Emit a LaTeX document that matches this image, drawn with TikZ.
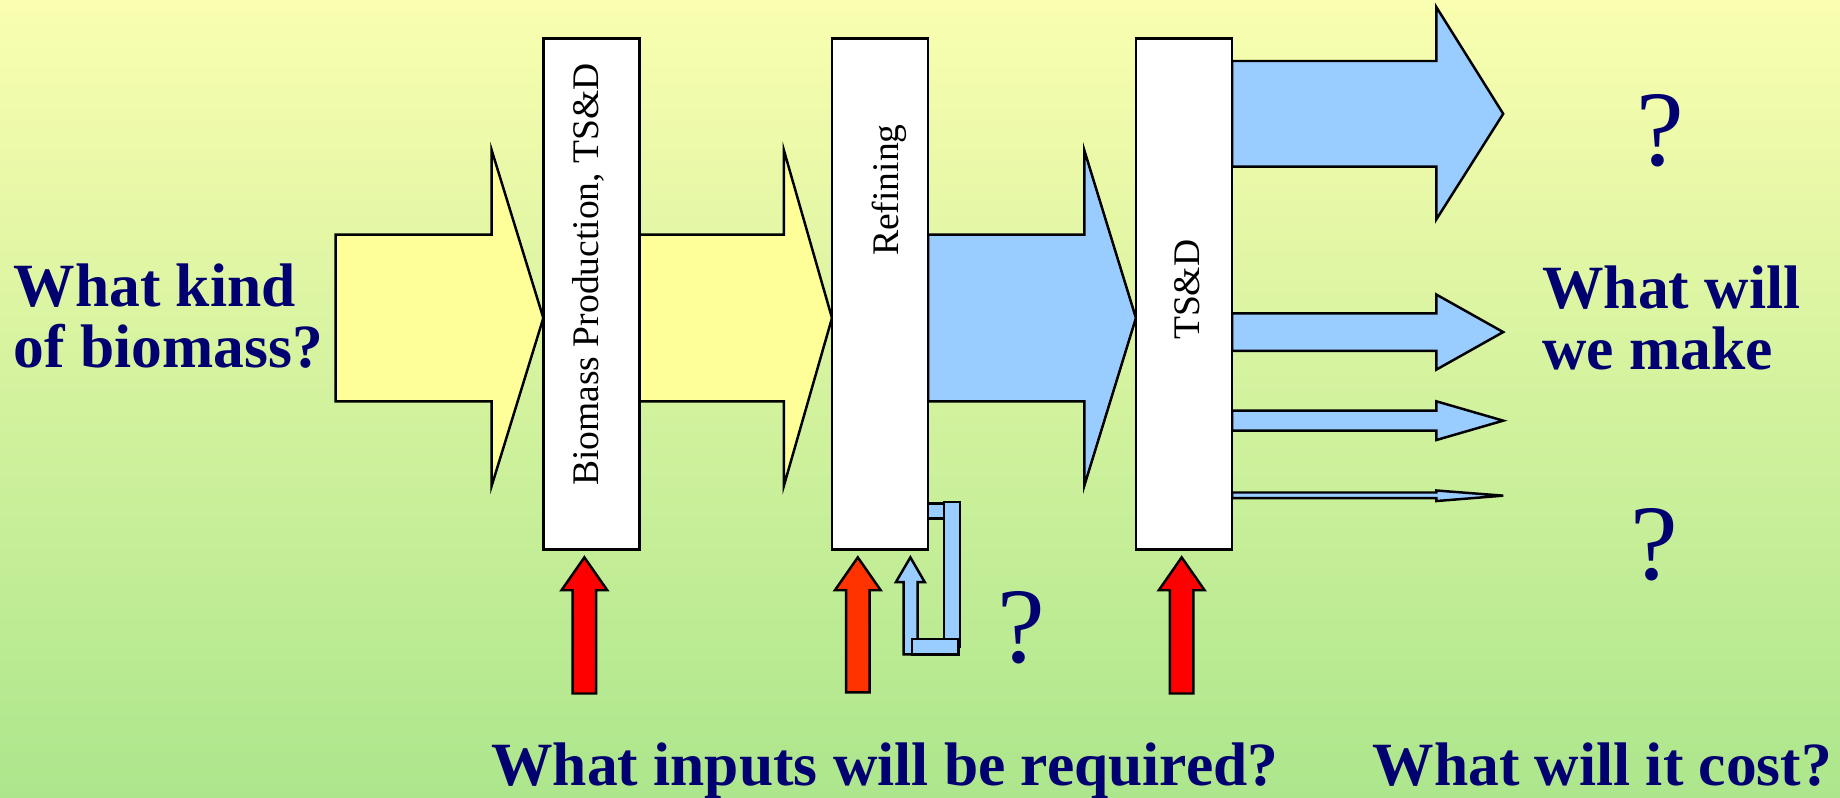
\documentclass[tikz,border=0pt]{standalone}
\usepackage{fontspec}
\setmainfont{Liberation Serif}
\definecolor{bgtop}{RGB}{250,254,176}
\definecolor{bgmid}{RGB}{232,247,165}
\definecolor{bgbot}{RGB}{172,230,140}
\definecolor{yellowA}{RGB}{255,255,153}
\definecolor{blueA}{RGB}{153,204,255}
\definecolor{redA}{RGB}{255,0,0}
\definecolor{redB}{RGB}{255,51,0}
\definecolor{navyA}{RGB}{0,0,112}
\begin{document}
\begin{tikzpicture}[x=0.01cm,y=-0.01cm,
  outline/.style={draw=black, line width=0.6pt, line join=miter},
  yarrow/.style={outline, fill=yellowA},
  barrow/.style={outline, fill=blueA},
  stagebox/.style={draw=black, line width=0.6pt, fill=white, inner sep=0pt,
    minimum width=0.82cm, minimum height=4.35cm},
  question/.style={text=navyA, font=\bfseries\fontsize{14.9}{15}\selectfont, inner sep=0pt, anchor=base west},
  qmark/.style={text=navyA, font=\fontsize{26}{26}\selectfont, inner sep=0pt, anchor=base},
  boxlabel/.style={font=\fontsize{9.1}{9.1}\selectfont, rotate=90, anchor=base, inner sep=0pt}]
% background
\path[use as bounding box, top color=bgtop, middle color=bgmid, bottom color=bgbot] (0,0) rectangle (1568,680);
% big horizontal arrows
\draw[yarrow] (286,200) -- (419,200) -- (419,128) -- (463,271) -- (419,414) -- (419,342) -- (286,342) -- cycle;
\draw[yarrow] (545,200) -- (668,200) -- (668,128) -- (709,271) -- (668,414) -- (668,342) -- (545,342) -- cycle;
\draw[barrow] (791,200) -- (924,200) -- (924,128) -- (968,271) -- (924,414) -- (924,342) -- (791,342) -- cycle;
% output arrows
\draw[barrow] (1050,52) -- (1224,52) -- (1224,6) -- (1281,97) -- (1224,187) -- (1224,142) -- (1050,142) -- cycle;
\draw[barrow] (1050,267) -- (1224,267) -- (1224,251) -- (1281,283) -- (1224,315) -- (1224,299) -- (1050,299) -- cycle;
\draw[barrow] (1050,350) -- (1224,350) -- (1224,342) -- (1281,358.5) -- (1224,375) -- (1224,367) -- (1050,367) -- cycle;
\draw[barrow] (1050,419.7) -- (1224,419.7) -- (1224,418) -- (1281,422.4) -- (1224,427) -- (1224,424.5) -- (1050,424.5) -- cycle;
% stage boxes
\node[stagebox] (box1) at (504,250.5) {};
\node[stagebox] (box2) at (750,250.5) {};
\node[stagebox] (box3) at (1009,250.5) {};
\node[boxlabel] (lab1) at (510,234) {Biomass Production, TS\&D};
\node[boxlabel] (lab2) at (766,162) {Refining};
\node[boxlabel] (lab3) at (1022,247) {TS\&D};
% input arrows
\draw[outline, fill=redA] (498,475) -- (517.5,503) -- (508,503) -- (508,591) -- (488,591) -- (488,503) -- (478.5,503) -- cycle;
\draw[outline, fill=redB] (731,475) -- (750.5,503) -- (741,503) -- (741,590) -- (721,590) -- (721,503) -- (711.5,503) -- cycle;
\draw[outline, fill=redA] (1007,475) -- (1026.5,503) -- (1017,503) -- (1017,591) -- (997,591) -- (997,503) -- (987.5,503) -- cycle;
% recycle loop
\draw[barrow] (775.8,475) -- (788,496) -- (782,496) -- (782,557.6) -- (770,557.6) -- (770,496) -- (763.5,496) -- cycle;
\draw[barrow] (791,429) rectangle (804.5,442);
\draw[barrow] (804.5,428) rectangle (818,551);
\draw[barrow] (777,544.5) rectangle (817,557.6);
% texts
\node[question] (kind1) at (11,261) {What kind};
\node[question] (kind2) at (11,313.5) {of biomass?};
\node[question] (make1) at (1313.7,262.7) {What will};
\node[question] (make2) at (1313.7,315) {we make};
\node[question] (inputs) at (418,669) {What inputs will be required?};
\node[question] (cost) at (1169,669) {What will it cost?};
\node[qmark] (q1) at (1415,141) {?};
\node[qmark] (q2) at (1410,494) {?};
\node[qmark] (q3) at (870,565) {?};
\end{tikzpicture}
\end{document}
